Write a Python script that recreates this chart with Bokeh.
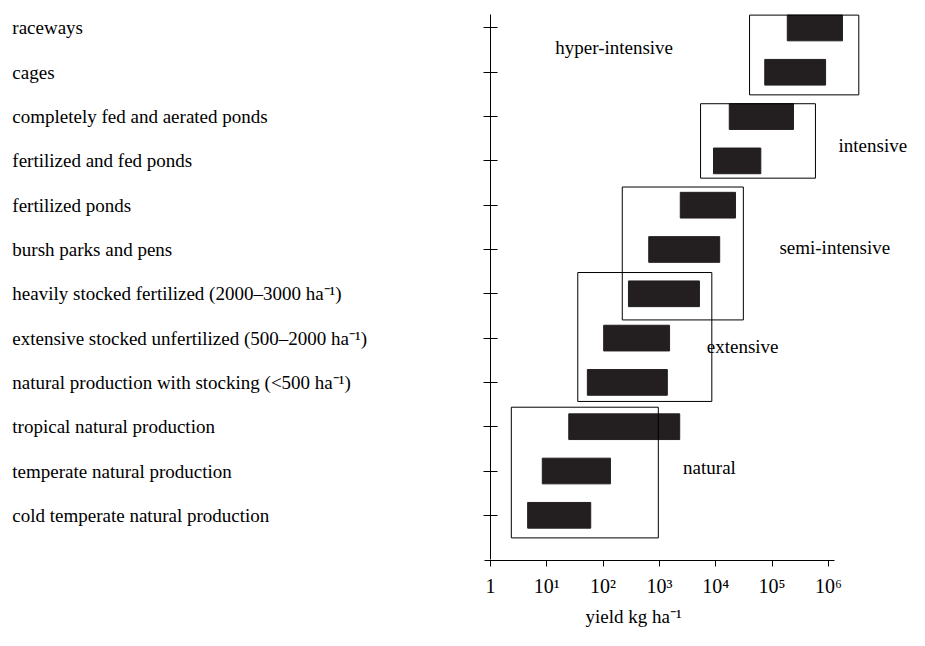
from bokeh.core.properties import value
from bokeh.embed import file_html
from bokeh.models import FixedTicker, Title
from bokeh.plotting import figure
from bokeh.resources import INLINE

# production systems, bottom to top
SYSTEMS = [
    "cold temperate natural production",
    "temperate natural production",
    "tropical natural production",
    "natural production with stocking (<500 ha\u207b\u00b9)",
    "extensive stocked unfertilized (500\u20132000 ha\u207b\u00b9)",
    "heavily stocked fertilized (2000\u20133000 ha\u207b\u00b9)",
    "bursh parks and pens",
    "fertilized ponds",
    "fertilized and fed ponds",
    "completely fed and aerated ponds",
    "cages",
    "raceways",
]
# log10 of yield range (kg/ha)
LOW = [0.66, 0.92, 1.39, 1.72, 2.01, 2.45, 2.81, 3.37, 3.96, 4.24, 4.87, 5.27]
HIGH = [1.78, 2.13, 3.36, 3.14, 3.18, 3.71, 4.07, 4.35, 4.80, 5.38, 5.95, 6.25]

GROUPS = ["natural", "extensive", "semi-intensive", "intensive", "hyper-intensive"]
G_LEFT = [0.37, 1.55, 2.34, 3.73, 4.60]
G_RIGHT = [2.98, 3.93, 4.49, 5.77, 6.54]
G_BOTTOM = [-0.51, 2.57, 4.41, 7.61, 9.49]
G_TOP = [2.44, 5.48, 7.41, 9.29, 11.29]
G_LABEL_X = [3.42, 3.84, 5.13, 6.18, 1.15]
G_LABEL_Y = [1.07, 3.80, 6.05, 8.35, 10.57]

TICK_LABELS = ["1", "10\u00b9", "10\u00b2", "10\u00b3", "10\u2074", "10\u2075", "10\u2076"]

FONT = "Liberation Serif"

p = figure(
    width=909, height=630,
    x_range=(-8.70, 7.44), y_range=(-1.02, 11.62),
    output_backend="svg", toolbar_location=None,
    min_border_left=0, min_border_right=0, min_border_top=0, min_border_bottom=0,
)
p.grid.visible = False
p.outline_line_color = None
p.background_fill_color = "white"

p.hbar(y=list(range(len(SYSTEMS))), left=LOW, right=HIGH, height=0.58,
       fill_color="#231f20", line_color="#231f20")
p.quad(left=G_LEFT, right=G_RIGHT, bottom=G_BOTTOM, top=G_TOP,
       fill_color=None, line_color="black", line_width=1)
p.text(x=G_LABEL_X, y=G_LABEL_Y, text=GROUPS, text_font=value(FONT),
       text_font_size="19px", text_align="left", text_baseline="middle", color="black")
p.text(x=[-8.49] * len(SYSTEMS), y=list(range(len(SYSTEMS))), text=SYSTEMS,
       text_font=value(FONT), text_font_size="19px", text_align="left",
       text_baseline="middle", color="black")

xa = p.xaxis[0]
xa.ticker = FixedTicker(ticks=list(range(7)))
xa.major_label_overrides = {i: t for i, t in enumerate(TICK_LABELS)}
xa.bounds = (-0.1, 6.1)
xa.minor_tick_line_color = None
xa.major_tick_in = 0
xa.major_tick_out = 6
xa.major_label_standoff = 8
xa.major_label_text_font = FONT
xa.major_label_text_font_size = "20px"
xa.major_label_text_color = "black"

p.add_layout(Title(text="yield kg ha\u207b\u00b9", align="left", offset=585,
                   text_font=FONT, text_font_size="19px", text_font_style="normal",
                   text_color="black", standoff=8), "below")

ya = p.yaxis[0]
ya.fixed_location = 0
ya.ticker = FixedTicker(ticks=list(range(len(SYSTEMS))))
ya.bounds = (-1.0, 11.3)
ya.major_label_text_font_size = "0px"
ya.minor_tick_line_color = None
ya.major_tick_in = 7
ya.major_tick_out = 7

open("out.html", "w").write(file_html(p, INLINE))
